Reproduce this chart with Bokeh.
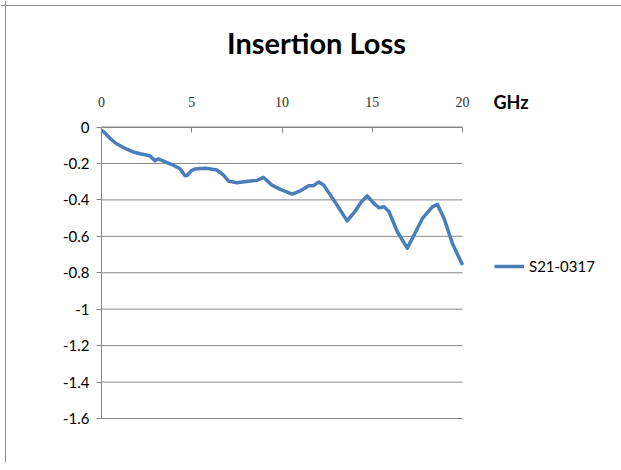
from bokeh.plotting import figure
from bokeh.models import Range1d, FixedTicker, Label, Span
from bokeh.embed import file_html
from bokeh.resources import INLINE

# ---- data ----
freq_ghz = [0, 0.13, 0.5, 0.83, 1.3, 1.76, 2.2, 2.68, 2.96, 3.15, 3.5, 3.98, 4.35, 4.63,
            4.75, 5.0, 5.18, 5.5, 5.83, 6.39, 6.76, 7.04, 7.5, 8.24, 8.61, 8.98, 9.44,
            9.91, 10.56, 11.02, 11.48, 11.72, 12.04, 12.31, 12.96, 13.61, 14.07, 14.4,
            14.72, 15.09, 15.37, 15.65, 15.93, 16.39, 16.94, 17.32, 17.78, 18.33, 18.61,
            18.98, 19.44, 20]
s21_0317 = [-0.02, -0.027, -0.065, -0.092, -0.117, -0.137, -0.148, -0.158, -0.185, -0.175,
            -0.19, -0.21, -0.229, -0.268, -0.265, -0.238, -0.231, -0.228, -0.227, -0.236,
            -0.264, -0.297, -0.306, -0.297, -0.293, -0.277, -0.319, -0.342, -0.368, -0.35,
            -0.322, -0.323, -0.302, -0.319, -0.415, -0.515, -0.46, -0.41, -0.378, -0.419,
            -0.443, -0.438, -0.465, -0.575, -0.665, -0.593, -0.502, -0.438, -0.425, -0.502,
            -0.639, -0.758]
series_name = "S21-0317"
x_ticks = [0, 5, 10, 15, 20]
y_ticks = [-1.6, -1.4, -1.2, -1.0, -0.8, -0.6, -0.4, -0.2, 0]
y_tick_labels = ["-1.6", "-1.4", "-1.2", "-1", "-0.8", "-0.6", "-0.4", "-0.2", "0"]
title_text = "Insertion Loss"
unit_text = "GHz"

X_MIN, X_MAX = 0, 20
Y_MIN, Y_MAX = -1.6, 0

# ---- layout (pixels on the canvas) ----
W, H = 621, 462
PL, PR = 101, 462      # plot area left / right
PT, PB = 126.5, 418    # plot area top / bottom
sx = (PR - PL) / (X_MAX - X_MIN)
sy = (PB - PT) / (Y_MAX - Y_MIN)

def dx(px):
    return X_MIN + (px - PL) / sx

def dy(py):
    return Y_MAX - (py - PT) / sy

GRID = "#878787"
LINE = "#4A7EBB"

p = figure(width=W, height=H, output_backend="svg", toolbar_location=None,
           x_axis_location="above",
           x_range=Range1d(dx(0), dx(W)), y_range=Range1d(dy(H), dy(0)),
           min_border=0, min_border_left=0, min_border_right=0,
           min_border_top=0, min_border_bottom=0)
p.outline_line_color = None
p.background_fill_color = "white"
p.border_fill_color = "white"
p.xgrid.visible = False
p.ygrid.visible = False

# x axis on top, fixed at y = 0
xa = p.xaxis[0]
xa.fixed_location = Y_MAX
xa.bounds = (X_MIN, X_MAX)
xa.ticker = FixedTicker(ticks=x_ticks)
xa.minor_tick_line_color = None
xa.major_tick_in = 5
xa.major_tick_out = 0
xa.axis_line_color = GRID
xa.major_tick_line_color = GRID
xa.major_label_standoff = 20
xa.major_label_text_font = "Liberation Serif"
xa.major_label_text_font_size = "14px"
xa.major_label_text_color = "#303030"

# y axis fixed at x = 0
ya = p.yaxis[0]
ya.fixed_location = X_MIN
ya.bounds = (Y_MIN, Y_MAX)
ya.ticker = FixedTicker(ticks=y_ticks)
ya.major_label_overrides = {t: l for t, l in zip(y_ticks, y_tick_labels)}
ya.minor_tick_line_color = None
ya.major_tick_in = 0
ya.major_tick_out = 5
ya.axis_line_color = GRID
ya.major_tick_line_color = GRID
ya.major_label_standoff = 7
ya.major_label_text_font = "Lato"
ya.major_label_text_font_size = "15px"
ya.major_label_text_color = "black"

# horizontal gridlines across the plot area only
p.segment(x0=[X_MIN] * len(y_ticks), x1=[X_MAX] * len(y_ticks), y0=y_ticks, y1=y_ticks,
          line_color=GRID, line_width=1, level="underlay")

p.line(freq_ghz, s21_0317, line_width=3.5, line_color=LINE, line_join="round",
       legend_label=series_name)

leg = p.legend[0]
leg.location = (494, H - 276)
leg.padding = 0
leg.margin = 0
leg.spacing = 0
leg.border_line_color = None
leg.background_fill_alpha = 0
leg.glyph_width = 30
leg.glyph_height = 20
leg.label_standoff = 5
leg.label_text_font = "Lato"
leg.label_text_font_size = "15px"
leg.label_text_color = "black"

p.add_layout(Label(x=dx(316), y=dy(42), text=title_text,
                   text_align="center", text_baseline="middle", text_font="Lato",
                   text_font_style="bold", text_font_size="29px", text_color="black"))
p.add_layout(Label(x=dx(493), y=dy(101), text=unit_text,
                   text_align="left", text_baseline="middle", text_font="Lato",
                   text_font_style="bold", text_font_size="18px", text_color="black"))

# thin chart-area border (left and top edges visible in the reference)
p.add_layout(Span(location=dx(5), dimension="height", line_color="#8c8c8c", line_width=1))
p.add_layout(Span(location=dy(5), dimension="width", line_color="#8c8c8c", line_width=1))

open("out.html", "w").write(file_html(p, INLINE))
